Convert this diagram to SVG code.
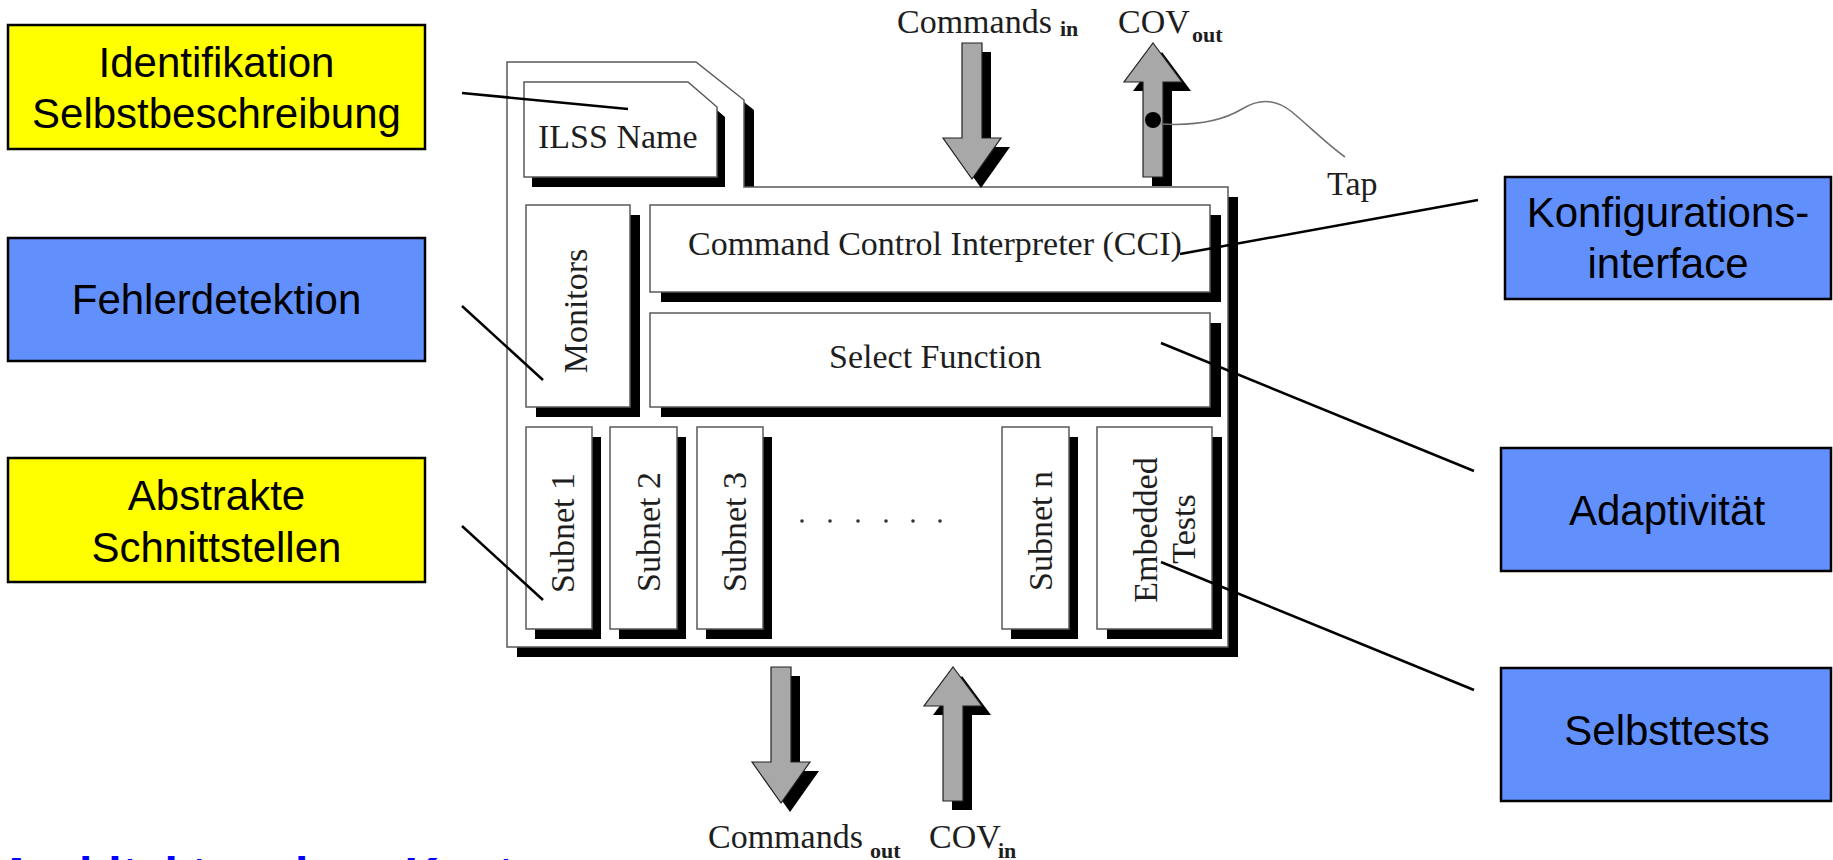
<svg xmlns="http://www.w3.org/2000/svg" xmlns:xlink="http://www.w3.org/1999/xlink" width="1833" height="860" viewBox="0 0 1833 860">
  <style>
    .lbl { stroke: #000; stroke-width: 2.5; }
    .yellow { fill: #ffff00; }
    .blue { fill: #618ffc; }
    .ltxt { font-family: "Liberation Sans", Arial, sans-serif; font-size: 42px; fill: #000; text-anchor: middle; }
    .panel { fill: #fff; stroke: #5a5a5a; stroke-width: 1.5; }
    .shadow { fill: #000; }
    .dtxt { font-family: "Liberation Serif", "Times New Roman", serif; font-size: 34px; fill: #1e1e1e; }
    .sub { font-family: "Liberation Serif", "Times New Roman", serif; font-size: 22px; font-weight: bold; fill: #1e1e1e; }
    .mid { text-anchor: middle; }
    .arrow { fill: #a8a8a8; stroke: #222; stroke-width: 1.2; }
    .leader { stroke: #000; stroke-width: 2.5; fill: none; }
    .tap { stroke: #707070; stroke-width: 1.6; fill: none; }
    .title { font-family: "Liberation Sans", Arial, sans-serif; font-size: 48px; font-weight: bold; fill: #0000ff; }
  </style>
  <defs>
    <path id="arrowDown" d="M-10,0 H10 V95 H29 L0,136 L-29,95 H-10 Z"/>
    <path id="arrowUp" d="M0,0 L29,39 H10 V134 H-10 V39 H-29 Z"/>
  </defs>

  <rect width="1833" height="860" fill="#fff"/>

  <!-- ILSS block: outer panel with tab -->
  <g id="ilss-frame">
    <path class="shadow" transform="translate(10,10)" d="M507,62 H696 L744,100 V187 H1228 V647 H507 Z"/>
    <path class="panel" d="M507,62 H696 L744,100 V187 H1228 V647 H507 Z"/>
  </g>

  <g id="ilss-name">
    <path class="shadow" transform="translate(8,10)" d="M524,82 H688 L717,107 V177 H524 Z"/>
    <path class="panel" d="M524,82 H688 L717,107 V177 H524 Z"/>
    <text class="dtxt" x="538" y="148">ILSS Name</text>
  </g>

  <g id="monitors">
    <rect class="shadow" x="536" y="215" width="104" height="202"/>
    <rect class="panel" x="526" y="205" width="104" height="202"/>
    <text class="dtxt mid" transform="translate(587,311) rotate(-90)">Monitors</text>
  </g>

  <g id="cci">
    <rect class="shadow" x="661" y="215" width="560" height="87"/>
    <rect class="panel" x="650" y="205" width="560" height="87"/>
    <text class="dtxt" x="688" y="255">Command Control Interpreter (CCI)</text>
  </g>

  <g id="select-function">
    <rect class="shadow" x="661" y="323" width="560" height="94"/>
    <rect class="panel" x="650" y="313" width="560" height="94"/>
    <text class="dtxt" x="829" y="368">Select Function</text>
  </g>

  <g id="subnet-1">
    <rect class="shadow" x="535" y="437" width="66" height="202"/>
    <rect class="panel" x="526" y="427" width="66" height="202"/>
    <text class="dtxt mid" transform="translate(574,533) rotate(-90)">Subnet 1</text>
  </g>
  <g id="subnet-2">
    <rect class="shadow" x="619" y="437" width="67" height="202"/>
    <rect class="panel" x="610" y="427" width="67" height="202"/>
    <text class="dtxt mid" transform="translate(660,532) rotate(-90)">Subnet 2</text>
  </g>
  <g id="subnet-3">
    <rect class="shadow" x="706" y="437" width="66" height="202"/>
    <rect class="panel" x="697" y="427" width="66" height="202"/>
    <text class="dtxt mid" transform="translate(746,532) rotate(-90)">Subnet 3</text>
  </g>

  <g id="ellipsis" fill="#333">
    <circle cx="802" cy="521" r="1.8"/>
    <circle cx="830" cy="521" r="1.8"/>
    <circle cx="858" cy="521" r="1.8"/>
    <circle cx="886" cy="521" r="1.8"/>
    <circle cx="913" cy="521" r="1.8"/>
    <circle cx="940" cy="521" r="1.8"/>
  </g>

  <g id="subnet-n">
    <rect class="shadow" x="1011" y="437" width="67" height="202"/>
    <rect class="panel" x="1002" y="427" width="67" height="202"/>
    <text class="dtxt mid" transform="translate(1052,531) rotate(-90)">Subnet n</text>
  </g>

  <g id="embedded-tests">
    <rect class="shadow" x="1107" y="437" width="115" height="202"/>
    <rect class="panel" x="1097" y="427" width="115" height="202"/>
    <text class="dtxt mid" transform="translate(1157,530) rotate(-90)">Embedded</text>
    <text class="dtxt mid" transform="translate(1195,529) rotate(-90)">Tests</text>
  </g>

  <!-- interface arrows -->
  <g id="commands-in">
    <use xlink:href="#arrowDown" class="shadow" transform="translate(981,52)"/>
    <use xlink:href="#arrowDown" class="arrow" transform="translate(972,43)"/>
    <text class="dtxt" x="897" y="33">Commands</text>
    <text class="sub" x="1060" y="36">in</text>
  </g>

  <g id="cov-out">
    <use xlink:href="#arrowUp" class="shadow" transform="translate(1162,52)"/>
    <use xlink:href="#arrowUp" class="arrow" transform="translate(1153,43)"/>
    <circle cx="1153" cy="120" r="8" fill="#000"/>
    <text class="dtxt" x="1118" y="33">COV</text>
    <text class="sub" x="1192" y="42">out</text>
  </g>

  <g id="tap">
    <path class="tap" d="M1161,124 C1195,126 1222,121 1242,109 C1258,99 1275,98 1292,112 C1310,127 1328,145 1345,157"/>
    <text class="dtxt" x="1327" y="195">Tap</text>
  </g>

  <g id="commands-out">
    <use xlink:href="#arrowDown" class="shadow" transform="translate(790,676)"/>
    <use xlink:href="#arrowDown" class="arrow" transform="translate(781,667)"/>
    <text class="dtxt" x="708" y="848">Commands</text>
    <text class="sub" x="870" y="858">out</text>
  </g>

  <g id="cov-in">
    <use xlink:href="#arrowUp" class="shadow" transform="translate(962,676)"/>
    <use xlink:href="#arrowUp" class="arrow" transform="translate(953,667)"/>
    <text class="dtxt" x="929" y="848">COV</text>
    <text class="sub" x="998" y="858">in</text>
  </g>

  <!-- annotation boxes -->
  <g id="identifikation">
    <rect class="lbl yellow" x="8" y="25" width="417" height="124"/>
    <text class="ltxt" x="216.5" y="77">Identifikation</text>
    <text class="ltxt" x="216.5" y="128">Selbstbeschreibung</text>
  </g>
  <g id="fehlerdetektion">
    <rect class="lbl blue" x="8" y="238" width="417" height="123"/>
    <text class="ltxt" x="216.5" y="314">Fehlerdetektion</text>
  </g>
  <g id="schnittstellen">
    <rect class="lbl yellow" x="8" y="458" width="417" height="124"/>
    <text class="ltxt" x="216.5" y="510">Abstrakte</text>
    <text class="ltxt" x="216.5" y="562">Schnittstellen</text>
  </g>
  <g id="konfiguration">
    <rect class="lbl blue" x="1505" y="177" width="326" height="122"/>
    <text class="ltxt" x="1668" y="227">Konfigurations-</text>
    <text class="ltxt" x="1668" y="278">interface</text>
  </g>
  <g id="adaptivitaet">
    <rect class="lbl blue" x="1501" y="448" width="330" height="123"/>
    <text class="ltxt" x="1667" y="525">Adaptivität</text>
  </g>
  <g id="selbsttests">
    <rect class="lbl blue" x="1501" y="668" width="330" height="133"/>
    <text class="ltxt" x="1667" y="745">Selbsttests</text>
  </g>

  <!-- leader lines from annotations into the block -->
  <g id="connectors">
    <line class="leader" x1="462" y1="93" x2="628" y2="109"/>
    <line class="leader" x1="462" y1="306" x2="543" y2="380"/>
    <line class="leader" x1="462" y1="526" x2="543" y2="600"/>
    <line class="leader" x1="1180" y1="254" x2="1478" y2="200"/>
    <line class="leader" x1="1161" y1="343" x2="1474" y2="471"/>
    <line class="leader" x1="1161" y1="562" x2="1474" y2="690"/>
  </g>

  <!-- page heading, running off the bottom edge -->
  <text class="title" x="-1" y="891">Architektur eines Knotens</text>
</svg>
